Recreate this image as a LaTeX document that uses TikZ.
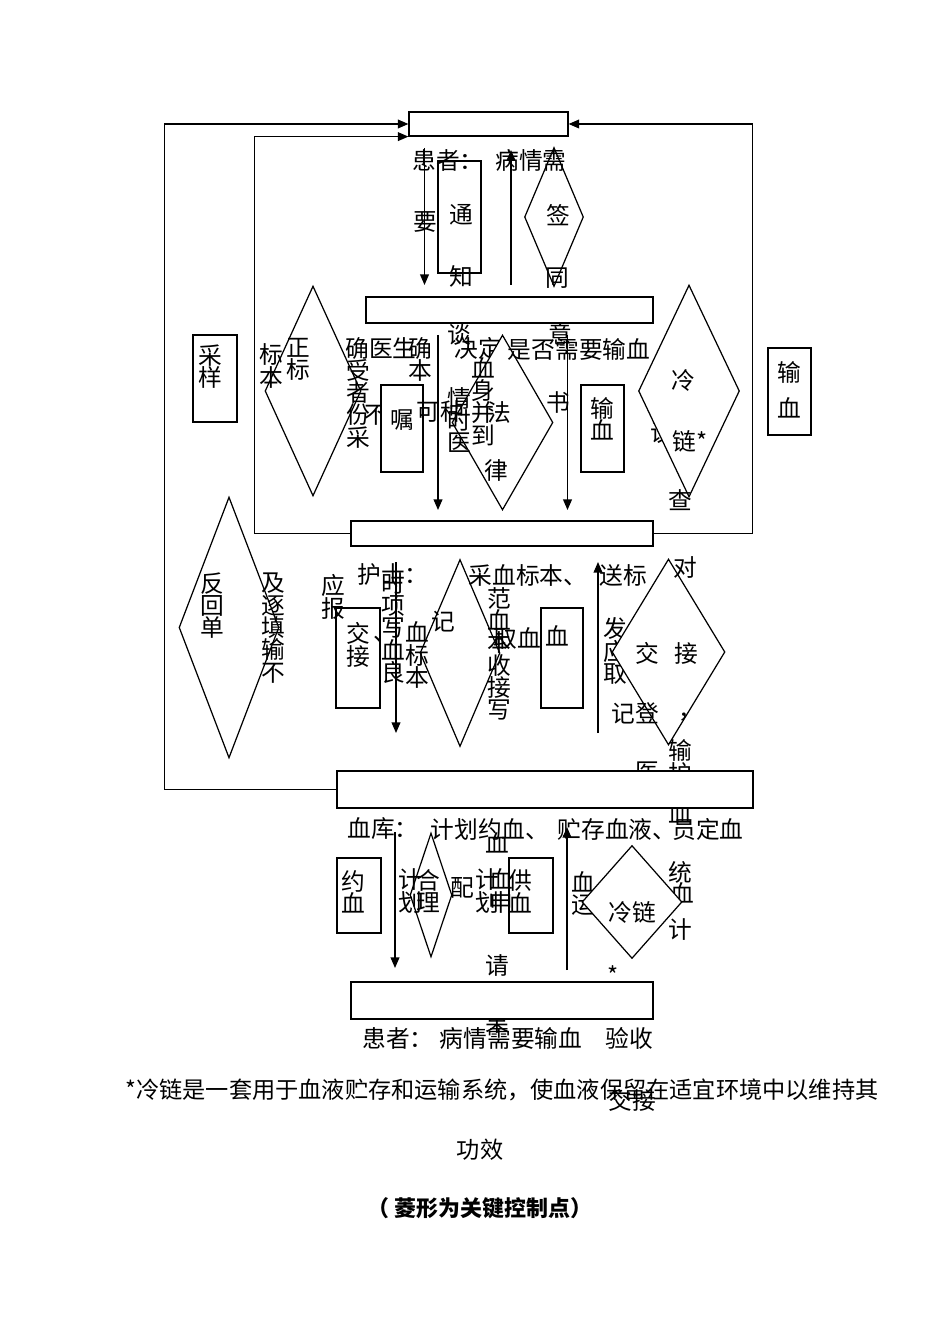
\documentclass[tikz,border=0pt]{standalone}
\usepackage{fontspec}
\setmainfont{Noto Sans CJK SC}
\usetikzlibrary{shapes.geometric,arrows.meta}
\tikzset{box node/.style={rectangle,draw,fill=white,inner sep=0pt},
	key node/.style={diamond,draw,fill=white,inner sep=0pt},
	word node/.style={inner sep=0pt,align=center,font=\fontsize{13.5pt}{12.7pt}\selectfont},
	foot node/.style={inner sep=0pt,font=\fontsize{13.2pt}{14pt}\selectfont},
}

\begin{document}
\begin{tikzpicture}[x=0.02cm,y=-0.02cm,line width=0.7pt,>={Triangle[length=6pt,width=5pt]}]
	\useasboundingbox[fill=white] (0,0) rectangle (950,1344);
	
	% text that the shapes cover
	\node[word node] (h1) at (376,415) {不};
	\node[word node] (h2) at (478,348) {决定};
	\node[word node] (h3) at (662,433) {议};
	\node[word node] (h4) at (615,651) {发\\应\\取};
	\node[word node] (h5) at (647,772) {医};
	\node[word node] (h6) at (680,774) {护};
	\node[word node] (h7) at (680,813) {血};
	\node[word node] (h8) at (583,893.5) {血\\运};
	\node[word node] (h9) at (682,893) {血};
	\node[word node] (h10) at (497,1023) {果};
	\node[word node] (h11) at (497,781) {输};
	
	\node[box node,minimum width=3.18cm,minimum height=0.48cm] (top) at (488.5,124) {};
	\node[box node,minimum width=5.74cm,minimum height=0.52cm] (doc) at (509.5,310) {};
	\node[box node,minimum width=6.04cm,minimum height=0.5cm] (nurse) at (502,533.5) {};
	\node[box node,minimum width=8.32cm,minimum height=0.74cm] (bank) at (545,789.5) {};
	\node[box node,minimum width=6.04cm,minimum height=0.74cm] (patient) at (502,1000.5) {};
	
	% loops back to the top
	\draw[->] (bank.west) -- ++(-172,0) |- (top.west);
	\draw[->] (nurse.west) -- ++(-96,0) |- (top.south west);
	\draw[->] (nurse.east) -- ++(99,0) |- (top.east);
	
	\node[box node,minimum width=0.86cm,minimum height=2.24cm] (notify) at (459.5,217) {};
	\node[key node,minimum width=1.18cm,minimum height=2.78cm] (sign) at (554,217) {};
	\node[box node,minimum width=0.88cm,minimum height=1.74cm] (sample) at (215,378.5) {};
	\node[key node,minimum width=1.92cm,minimum height=4.2cm] (label) at (313,391) {};
	\node[box node,minimum width=0.84cm,minimum height=1.74cm] (order) at (402,428.5) {};
	\node[key node,minimum width=2.02cm,minimum height=3.5cm] (law) at (502.5,422.5) {};
	\node[box node,minimum width=0.86cm,minimum height=1.74cm] (trans) at (602.5,428.5) {};
	\node[key node,minimum width=2.02cm,minimum height=4.24cm] (cold) at (689,391) {};
	\node[box node,minimum width=0.86cm,minimum height=1.74cm] (transr) at (789.5,391.5) {};
	\node[key node,minimum width=2cm,minimum height=5.22cm] (feedback) at (229,627.5) {};
	\node[box node,minimum width=0.88cm,minimum height=2cm] (handover) at (358,658) {};
	\node[key node,minimum width=1.6cm,minimum height=3.74cm] (specimen) at (460,653) {};
	\node[box node,minimum width=0.84cm,minimum height=2cm] (fetch) at (562,658) {};
	\node[key node,minimum width=2.26cm,minimum height=3.72cm] (check) at (668.5,652) {};
	\node[box node,minimum width=0.88cm,minimum height=1.5cm] (book) at (359,895.5) {};
	\node[key node,minimum width=0.84cm,minimum height=2.48cm] (match) at (431,895) {};
	\node[box node,minimum width=0.88cm,minimum height=1.5cm] (supply) at (531,895.5) {};
	\node[key node,minimum width=2cm,minimum height=2.26cm] (coldb) at (632,902) {};
	
	\node[word node] (n1) at (448,160) {患者：};
	\node[word node] (n2) at (531,160) {病情需};
	\node[word node] (n3) at (425,222) {要};
	\node[word node] (n4) at (461,215) {通};
	\node[word node] (n5) at (461,276) {知};
	\node[word node] (n6) at (558,215) {签};
	\node[word node] (n7) at (557,278) {同};
	\node[word node] (n8) at (210,366.5) {采\\样};
	\node[word node] (n9) at (271,366) {标\\本};
	\node[word node] (n10) at (298,359) {正\\标};
	\node[word node] (n11) at (381,348) {确医生};
	\node[word node] (n12) at (420,348) {确};
	\node[word node] (n13) at (420,370) {本};
	\node[word node] (n14) at (358,403.5) {受\\者\\份\\采};
	\node[word node] (n15) at (402,420) {嘱};
	\node[word node] (n16) at (440,411) {可种};
	\node[word node] (n17) at (459,334) {谈};
	\node[word node] (n18) at (459,420) {情\\时\\医};
	\node[word node] (n19) at (579,349) {是否需要输血};
	\node[word node] (n20) at (560,334) {意};
	\node[word node] (n21) at (483,401.5) {血\\身\\并\\到};
	\node[word node] (n22) at (499,412) {法};
	\node[word node] (n23) at (496,470) {律};
	\node[word node] (n24) at (558,403) {书};
	\node[word node] (n25) at (602,418.5) {输\\血};
	\node[word node] (n26) at (683,380) {冷};
	\node[word node] (n27) at (690,441) {链*};
	\node[word node] (n28) at (680,500) {查};
	\node[word node] (n29) at (789,372) {输};
	\node[word node] (n30) at (789,408) {血};
	
	\node[word node] (n31) at (212,605.5) {反\\回\\单};
	\node[word node] (n32) at (273,628) {及\\逐\\填\\输\\不};
	\node[word node] (n33) at (333,597) {应\\报};
	\node[word node] (n34) at (358,645) {交\\接};
	\node[word node] (n35) at (393,575) {护士：};
	\node[word node] (n36) at (528,575) {采血标本、};
	\node[word node] (n37) at (623,575) {送标};
	\node[word node] (n38) at (685,567) {对};
	\node[word node] (n39) at (393,628) {时\\项\\写\\血\\良};
	\node[word node] (n40) at (385,640) {、};
	\node[word node] (n41) at (417,655) {血\\标\\本};
	\node[word node] (n42) at (443,622) {记};
	\node[word node] (n43) at (499,654) {范\\血\\本\\收\\接\\写};
	\node[word node] (n44) at (517,638) {取血};
	\node[word node] (n45) at (557,636) {血};
	\node[word node] (n46) at (667,653) {交\hspace{0.32cm}接};
	\node[word node] (n47) at (635,713) {记登};
	\node[word node] (n48) at (690,717) {，};
	\node[word node] (n49) at (680,750) {输};
	
	\node[word node] (n50) at (383,829) {血库：};
	\node[word node] (n51) at (490,829) {计划约血、};
	\node[word node] (n52) at (617,829) {贮存血液、};
	\node[word node] (n53) at (708,829) {员定血};
	\node[word node] (n54) at (497,843) {血};
	\node[word node] (n55) at (353,891.5) {约\\血};
	\node[word node] (n56) at (410,891) {计\\划};
	\node[word node] (n57) at (428,891) {合\\理};
	\node[word node] (n58) at (462,888) {配};
	\node[word node] (n59) at (487,891) {计\\划};
	\node[word node] (n60) at (501,891) {血\\申};
	\node[word node] (n61) at (520,891.5) {供\\血};
	\node[word node] (n62) at (632,912) {冷链};
	\node[word node] (n63) at (680,872) {统};
	\node[word node] (n64) at (680,930) {计};
	\node[word node] (n65) at (497,965) {请};
	\node[word node] (n66) at (613,975) {*};
	\node[word node] (n67) at (398,1038) {患者：};
	\node[word node] (n68) at (511,1038) {病情需要输血};
	\node[word node] (n69) at (629,1038) {验收};
	
	% vertical arrows
	\coordinate (a1) at (424.5,148); \coordinate (b1) at (424.5,285);
	\coordinate (a2) at (511,285); \coordinate (b2) at (511,150);
	\coordinate (a3) at (438,335); \coordinate (b3) at (438,510);
	\coordinate (a4) at (567.5,335); \coordinate (b4) at (567.5,510);
	\coordinate (a5) at (396,562); \coordinate (b5) at (396,733);
	\coordinate (a6) at (598,733); \coordinate (b6) at (598,562);
	\coordinate (a7) at (395,832); \coordinate (b7) at (395,968);
	\coordinate (a8) at (567,970); \coordinate (b8) at (567,827);
	\draw[->] (a1) -- (b1);
	\draw[->] (a2) -- (b2);
	\draw[->] (a3) -- (b3);
	\draw[->] (a4) -- (b4);
	\draw[->] (a5) -- (b5);
	\draw[->] (a6) -- (b6);
	\draw[->] (a7) -- (b7);
	\draw[->] (a8) -- (b8);
	
	\node[foot node] (f1) at (502,1090) {*冷链是一套用于血液贮存和运输系统，使血液保留在适宜环境中以维持其};
	\node[word node] (f2) at (632,1100) {交接};
	\node[foot node] (f3) at (480,1150) {功效};
	\node[foot node,font=\fontsize{12.5pt}{14pt}\selectfont\bfseries] (f4) at (480,1208) {（ 菱形为关键控制点）};
\end{tikzpicture}
\end{document}
